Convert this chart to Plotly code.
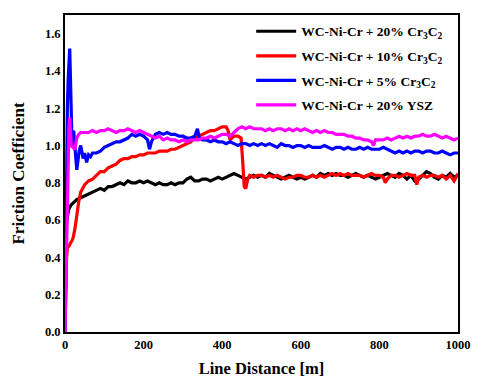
import plotly.graph_objects as go

# ---- data ----
x_20cr = [0, 2, 4, 6, 8, 10, 15, 20, 25, 30, 40, 50, 60, 70, 80, 90, 100, 110, 120, 130, 140, 150,
          160, 170, 180, 190, 200, 210, 220, 230, 240, 250, 260, 270, 280, 290, 300, 310, 320, 330,
          340, 350, 360, 370, 380, 390, 400, 410, 420, 430, 440, 450, 460, 470, 480, 490, 500, 510,
          520, 530, 540, 550, 560, 570, 580, 590, 600, 610, 620, 630, 640, 650, 660, 670, 680, 690,
          700, 710, 720, 730, 740, 750, 760, 770, 780, 790, 800, 810, 820, 830, 840, 850, 860, 870,
          880, 890, 900, 910, 920, 930, 940, 950, 960, 970, 980, 990, 1000]
y_20cr = [0.0, 0.45, 0.58, 0.62, 0.64, 0.66, 0.68, 0.69, 0.70, 0.71, 0.72, 0.73, 0.74, 0.75, 0.76, 0.77,
          0.76, 0.78, 0.78, 0.79, 0.80, 0.79, 0.81, 0.80, 0.80, 0.81, 0.80, 0.81, 0.80, 0.79, 0.80, 0.79,
          0.79, 0.80, 0.79, 0.80, 0.80, 0.82, 0.83, 0.81, 0.81, 0.82, 0.82, 0.81, 0.82, 0.83, 0.82, 0.83,
          0.84, 0.85, 0.84, 0.83, 0.82, 0.83, 0.84, 0.83, 0.84, 0.83, 0.85, 0.84, 0.83, 0.82, 0.83, 0.84,
          0.83, 0.82, 0.83, 0.82, 0.83, 0.84, 0.83, 0.85, 0.84, 0.85, 0.84, 0.85, 0.84, 0.84, 0.83, 0.84,
          0.85, 0.84, 0.83, 0.84, 0.83, 0.82, 0.83, 0.84, 0.85, 0.84, 0.83, 0.85, 0.84, 0.82, 0.84, 0.81,
          0.82, 0.84, 0.86, 0.85, 0.83, 0.82, 0.84, 0.83, 0.85, 0.83, 0.84]

x_10cr = [0, 2, 4, 6, 10, 15, 20, 25, 30, 35, 40, 50, 60, 70, 80, 90, 100, 110, 120, 130, 140, 150,
          160, 170, 180, 190, 200, 210, 220, 230, 240, 250, 260, 270, 280, 290, 300, 310, 320, 330,
          340, 350, 360, 370, 380, 390, 400, 410, 415, 420, 425, 430, 440, 448, 452, 456, 460, 465,
          470, 480, 490, 500, 510, 520, 530, 540, 550, 560, 570, 580, 590, 600, 610, 620, 630, 640,
          650, 660, 670, 680, 690, 700, 710, 720, 730, 740, 750, 760, 770, 780, 790, 800, 810, 815,
          820, 830, 840, 850, 860, 870, 880, 890, 895, 900, 910, 920, 930, 940, 950, 960, 970, 980,
          990, 1000]
y_10cr = [0.0, 0.25, 0.40, 0.45, 0.46, 0.48, 0.50, 0.55, 0.63, 0.70, 0.75, 0.79, 0.81, 0.82, 0.84, 0.86,
          0.86, 0.88, 0.89, 0.90, 0.92, 0.93, 0.93, 0.94, 0.94, 0.95, 0.95, 0.96, 0.96, 0.96, 0.97, 0.97,
          0.97, 0.98, 0.98, 0.99, 1.00, 1.01, 1.02, 1.04, 1.05, 1.06, 1.07, 1.08, 1.08, 1.09, 1.10, 1.10,
          1.08, 1.03, 1.04, 1.05, 1.05, 1.04, 0.92, 0.78, 0.77, 0.82, 0.84, 0.83, 0.84, 0.84, 0.83, 0.84,
          0.83, 0.84, 0.83, 0.82, 0.83, 0.83, 0.84, 0.84, 0.83, 0.83, 0.84, 0.83, 0.84, 0.83, 0.84, 0.85,
          0.84, 0.85, 0.84, 0.85, 0.84, 0.84, 0.84, 0.83, 0.84, 0.85, 0.84, 0.84, 0.83, 0.80, 0.82, 0.84,
          0.84, 0.83, 0.84, 0.85, 0.84, 0.84, 0.79, 0.83, 0.84, 0.83, 0.84, 0.84, 0.83, 0.84, 0.82, 0.84,
          0.81, 0.85]

x_5cr = [0, 2, 4, 6, 8, 10, 12, 14, 16, 18, 20, 22, 25, 28, 30, 33, 36, 40, 43, 46, 50, 55, 60, 65, 70,
         80, 90, 100, 110, 120, 130, 140, 150, 160, 170, 180, 190, 200, 210, 215, 220, 230, 240, 250,
         260, 270, 280, 290, 300, 310, 320, 330, 337, 342, 350, 360, 370, 380, 390, 400, 410, 420, 430,
         440, 450, 460, 470, 480, 490, 500, 510, 520, 530, 540, 550, 560, 570, 580, 590, 600, 610, 620,
         630, 640, 650, 660, 670, 680, 690, 700, 710, 720, 730, 740, 750, 760, 770, 780, 790, 800, 810,
         820, 830, 840, 850, 860, 870, 880, 890, 900, 910, 920, 930, 940, 950, 960, 970, 980, 990, 1000]
y_5cr = [0.0, 0.60, 1.00, 1.20, 1.35, 1.45, 1.52, 1.35, 1.10, 1.00, 1.05, 1.08, 1.00, 0.90, 0.87, 0.92,
         0.97, 1.00, 0.96, 0.93, 0.96, 0.91, 0.95, 0.94, 0.96, 0.96, 0.97, 0.99, 1.00, 1.01, 1.02, 1.02,
         1.03, 1.04, 1.06, 1.05, 1.06, 1.05, 1.03, 0.98, 1.02, 1.06, 1.07, 1.06, 1.07, 1.06, 1.06, 1.05,
         1.05, 1.04, 1.04, 1.05, 1.09, 1.04, 1.03, 1.03, 1.02, 1.03, 1.02, 1.02, 1.01, 1.02, 1.01, 1.00,
         1.01, 1.01, 1.00, 1.01, 1.00, 1.01, 1.00, 1.01, 1.00, 0.99, 1.01, 1.00, 1.00, 0.99, 1.00, 1.00,
         0.99, 1.00, 0.99, 0.99, 0.99, 1.00, 0.99, 0.98, 0.99, 0.99, 0.98, 0.99, 0.98, 0.98, 0.99, 0.98,
         0.99, 0.98, 0.98, 0.98, 0.99, 0.98, 0.97, 0.96, 0.97, 0.96, 0.97, 0.96, 0.97, 0.97, 0.96, 0.97,
         0.97, 0.96, 0.96, 0.97, 0.96, 0.95, 0.96, 0.96]

x_ysz = [0, 4, 7, 10, 12, 14, 16, 20, 25, 30, 35, 40, 50, 60, 70, 80, 90, 100, 110, 120, 130, 140, 150,
         160, 170, 180, 190, 200, 210, 220, 230, 240, 250, 260, 270, 280, 290, 300, 310, 320, 330, 340,
         350, 360, 370, 380, 390, 400, 410, 420, 430, 440, 450, 460, 470, 480, 490, 500, 510, 520, 530,
         540, 550, 560, 570, 580, 590, 600, 610, 620, 630, 640, 650, 660, 670, 680, 690, 700, 710, 720,
         730, 740, 750, 760, 770, 780, 785, 790, 800, 810, 820, 830, 840, 850, 860, 870, 880, 890, 900,
         910, 920, 930, 940, 950, 960, 970, 980, 990, 1000]
y_ysz = [0.0, 0.50, 0.95, 1.10, 1.15, 1.05, 1.00, 0.99, 0.98, 1.04, 1.06, 1.07, 1.07, 1.07, 1.08, 1.07,
         1.08, 1.08, 1.09, 1.08, 1.07, 1.08, 1.08, 1.09, 1.08, 1.07, 1.08, 1.07, 1.06, 1.05, 1.04, 1.05,
         1.03, 1.04, 1.03, 1.03, 1.02, 1.03, 1.02, 1.03, 1.03, 1.03, 1.04, 1.04, 1.05, 1.04, 1.05, 1.06,
         1.06, 1.05, 1.07, 1.09, 1.10, 1.09, 1.10, 1.09, 1.09, 1.09, 1.08, 1.09, 1.08, 1.09, 1.09, 1.08,
         1.09, 1.08, 1.09, 1.08, 1.09, 1.08, 1.07, 1.08, 1.07, 1.08, 1.07, 1.07, 1.06, 1.06, 1.06, 1.05,
         1.05, 1.04, 1.04, 1.03, 1.03, 1.02, 1.00, 1.03, 1.03, 1.03, 1.04, 1.03, 1.04, 1.05, 1.04, 1.05,
         1.04, 1.05, 1.05, 1.06, 1.05, 1.05, 1.06, 1.05, 1.04, 1.05, 1.04, 1.03, 1.04]

series_names = ["WC-Ni-Cr + 20% Cr<sub>3</sub>C<sub>2</sub>",
                "WC-Ni-Cr + 10% Cr<sub>3</sub>C<sub>2</sub>",
                "WC-Ni-Cr + 5% Cr<sub>3</sub>C<sub>2</sub>",
                "WC-Ni-Cr + 20% YSZ"]
series_colors = ["#000000", "#ff0000", "#0000ff", "#ff00ff"]
xs = [x_20cr, x_10cr, x_5cr, x_ysz]
ys = [y_20cr, y_10cr, y_5cr, y_ysz]

FONT = "Liberation Serif, Times New Roman, serif"

fig = go.Figure()
for i, (name, color, x, y) in enumerate(zip(series_names, series_colors, xs, ys)):
    fig.add_trace(go.Scatter(x=x, y=y, mode="lines", name=name, legendgroup=f"g{i}",
                             line=dict(color=color, width=3.2)))

# the page body has an 8px margin, so the figure is sized to fit inside the window
fig.update_layout(
    width=475, height=380,
    margin=dict(l=57, r=25, t=7, b=56),
    paper_bgcolor="white", plot_bgcolor="white",
    font=dict(family=FONT, size=12, color="black", weight="bold"),
    showlegend=True,
    legend=dict(x=0.975, y=0.997, xanchor="right", yanchor="top",
                bgcolor="rgba(0,0,0,0)", borderwidth=0, itemwidth=40,
                font=dict(family=FONT, size=13.5, color="black", weight="bold"),
                tracegroupgap=4),
)
fig.update_xaxes(range=[0, 1000], dtick=200, tick0=0, showgrid=False, zeroline=False,
                 showline=True, linecolor="black", linewidth=2, mirror=True, automargin=False,
                 ticks="", tickfont=dict(family=FONT, size=12.5, weight="bold"),
                 title=dict(text="Line Distance [m]", standoff=11,
                            font=dict(family=FONT, size=16.5, weight="bold")))
fig.update_yaxes(range=[0, 1.7], dtick=0.2, tick0=0, tickformat=".1f", showgrid=False,
                 zeroline=False, showline=True, linecolor="black", linewidth=2, mirror=True,
                 automargin=False,
                 ticks="", tickfont=dict(family=FONT, size=12.5, weight="bold"),
                 title=dict(text="Friction Coefficient", standoff=16,
                            font=dict(family=FONT, size=17, weight="bold")))

fig.write_html("out.html")
